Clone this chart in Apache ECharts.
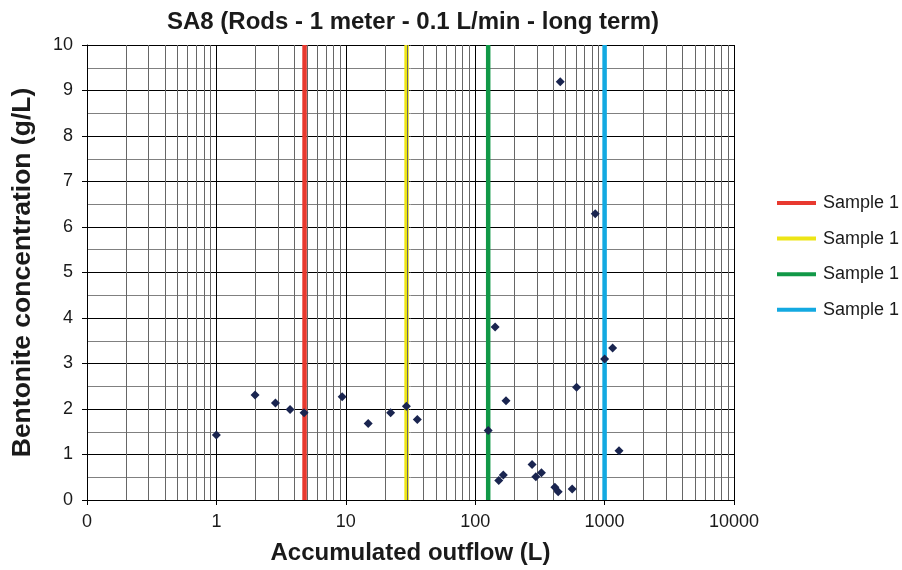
<!DOCTYPE html>
<html><head><meta charset="utf-8">
<script src="https://cdn.jsdelivr.net/npm/echarts@6/dist/echarts.min.js"></script>
<style>html,body{margin:0;padding:0;background:#fff}#c{width:902px;height:570px}</style>
</head><body><div id="c"></div>
<script>
// Measured data (accumulated outflow in L, bentonite concentration in g/L)
const outflow = [1, 1.99, 2.86, 3.71, 4.76, 9.38, 14.9, 22.2, 29.4, 35.7, 126, 142.6, 152, 165, 173, 275, 294, 325, 413, 438, 454, 562, 607, 847, 1000, 1153, 1292];
const concentration = [1.43, 2.31, 2.13, 1.99, 1.92, 2.27, 1.68, 1.92, 2.06, 1.77, 1.53, 3.80, 0.43, 0.55, 2.18, 0.78, 0.51, 0.60, 0.28, 0.18, 9.19, 0.24, 2.48, 6.29, 3.10, 3.34, 1.08];
// Vertical sample markers
const sampleLabels = ['Sample 1', 'Sample 1', 'Sample 1', 'Sample 1'];
const sampleX = [4.8, 29.5, 126, 1000];
const sampleColors = ['#e8392f', '#ede515', '#119847', '#13a9e1'];
// Axis tick labels
const xTickValues = [0.1, 1, 10, 100, 1000, 10000];
const xTickLabels = ['0', '1', '10', '100', '1000', '10000'];
const yMin = 0, yMax = 10, yStep = 1;

const FONT = "'Liberation Sans', Arial, sans-serif";
const points = outflow.map((x, i) => [x, concentration[i]]);

// minor log gridline positions (2..9 within each decade)
const minorX = [];
for (let d = 0; d < xTickValues.length - 1; d++) {
  for (let k = 2; k <= 9; k++) minorX.push(+(k * xTickValues[d]).toPrecision(6));
}

const series = [];
series.push({
  type: 'line', name: 'minor', data: [], silent: true, z: 1,
  markLine: {
    silent: true, symbol: ['none', 'none'], animation: false,
    label: { show: false },
    lineStyle: { color: '#666666', width: 1, type: 'solid', opacity: 1 },
    emphasis: { disabled: true },
    data: minorX.map(v => ({ xAxis: v }))
  }
});
sampleX.forEach((x, i) => {
  series.push({
    type: 'line', name: 's' + i, z: 3,
    data: [[x, yMin], [x, yMax]],
    symbol: 'none', color: sampleColors[i],
    lineStyle: { color: sampleColors[i], width: 4.5 },
    itemStyle: { color: sampleColors[i] }
  });
});
series.push({
  type: 'scatter', name: 'data', z: 5,
  data: points, symbol: 'diamond', symbolSize: 9,
  itemStyle: { color: '#1a2550', opacity: 1 }
});

const chart = echarts.init(document.getElementById('c'), null, { renderer: 'canvas' });
chart.setOption({
  animation: false,
  backgroundColor: '#fff',
  textStyle: { fontFamily: FONT },
  title: {
    text: 'SA8 (Rods - 1 meter - 0.1 L/min - long term)',
    left: 408, top: 5, textAlign: 'center',
    textStyle: { fontFamily: FONT, fontSize: 24, fontWeight: 'bold', color: '#1a1a1a' }
  },
  legend: {
    orient: 'vertical', left: 772, top: 188,
    data: sampleX.map((_, i) => 's' + i),
    formatter: n => sampleLabels[+n.slice(1)],
    icon: 'rect', itemWidth: 39, itemHeight: 4, itemGap: 15.6,
    textStyle: { fontFamily: FONT, fontSize: 18, color: '#1a1a1a', lineHeight: 20, padding: [0, 0, 0, 2] },
    selectedMode: false
  },
  grid: { left: 87, right: 168, top: 45, bottom: 70 },
  xAxis: {
    type: 'log', logBase: 10, min: xTickValues[0], max: xTickValues[xTickValues.length - 1],
    name: 'Accumulated outflow (L)', nameLocation: 'middle', nameGap: 41,
    nameTextStyle: { fontFamily: FONT, fontSize: 24, fontWeight: 'bold', color: '#1a1a1a' },
    axisLine: { show: true, onZero: false, lineStyle: { color: '#000', width: 1 } },
    axisTick: { show: true, inside: false, length: 5, lineStyle: { color: '#000' } },
    axisLabel: {
      fontFamily: FONT, fontSize: 18, color: '#1a1a1a', margin: 13,
      formatter: v => { const i = xTickValues.findIndex(t => Math.abs(Math.log10(t) - Math.log10(v)) < 1e-6); return i >= 0 ? xTickLabels[i] : ''; }
    },
    splitLine: { show: true, lineStyle: { color: '#000', width: 1 } }
  },
  yAxis: {
    type: 'value', min: yMin, max: yMax, interval: yStep,
    name: 'Bentonite concentration (g/L)', nameLocation: 'middle', nameGap: 51,
    nameTextStyle: { fontFamily: FONT, fontSize: 26.5, fontWeight: 'bold', color: '#1a1a1a' },
    axisLine: { show: true, lineStyle: { color: '#000', width: 1 } },
    axisTick: { show: true, inside: false, length: 5, lineStyle: { color: '#000' } },
    axisLabel: { fontFamily: FONT, fontSize: 18, color: '#1a1a1a', margin: 14 },
    splitLine: { show: true, lineStyle: { color: '#000', width: 1 } },
    minorTick: { show: false, splitNumber: 2 },
    minorSplitLine: { show: true, lineStyle: { color: '#808080', width: 1 } }
  },
  series: series
});
</script></body></html>
